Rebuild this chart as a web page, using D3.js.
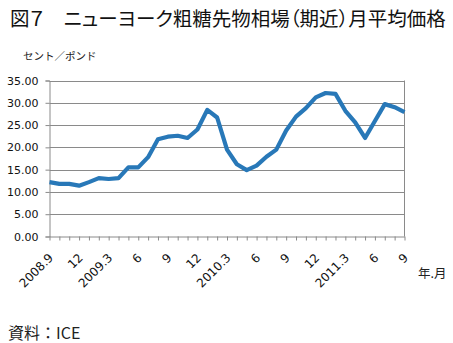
<!DOCTYPE html>
<html><head><meta charset="utf-8">
<script src="https://cdn.jsdelivr.net/npm/d3@7"></script>
<style>
body{margin:0;background:#fff;}
svg{display:block;font-family:"Noto Sans CJK JP","Noto Sans",sans-serif;}
</style></head>
<body><svg id="c" width="453" height="343"></svg>
<script>
// Monthly average, NY raw sugar futures (nearby), Sep 2008 - Sep 2011, cents/lb
const months = d3.range(37);
const prices = [12.2, 11.8, 11.8, 11.4, 12.2, 13.1, 12.9, 13.1, 15.5, 15.5, 17.8, 21.8,
  22.4, 22.6, 22.1, 24.0, 28.4, 26.7, 19.5, 16.2, 14.9, 15.9, 17.9, 19.5,
  23.8, 26.9, 28.8, 31.2, 32.2, 32.0, 28.2, 25.6, 22.1, 25.9, 29.7, 29.0, 27.9];
const monthLabels = {0:"2008.9",3:"12",6:"2009.3",9:"6",12:"9",15:"12",18:"2010.3",21:"6",24:"9",27:"12",30:"2011.3",33:"6",36:"9"};
const yTicks = [0,5,10,15,20,25,30,35];

const svg = d3.select("#c");
const L = 49.5, R = 404.5, T = 80.5, B = 236.5;
const x = d3.scaleLinear().domain([0, 36]).range([L, R]);
const y = d3.scaleLinear().domain([0, 35]).range([B, T]);
const grey = "#8a8a8a";
const numFont = "'DejaVu Sans','Verdana',sans-serif";

// title, sized to span the top line (proportional kana/punctuation)
const title = svg.append("text").attr("x", 10).attr("y", 25.5).attr("font-size", 19)
  .style("font-feature-settings", "'palt'")
  .attr("fill", "#111").text("図７　ニューヨーク粗糖先物相場（期近）月平均価格");
const tw = title.node().getComputedTextLength();
title.attr("font-size", Math.min(21, 19 * 436 / tw));

svg.append("text").attr("x", 23).attr("y", 60).attr("font-size", 10.5).attr("fill", "#222").text("セント／ポンド");
svg.append("text").attr("x", 418).attr("y", 278).attr("font-size", 12.5).attr("fill", "#222")
  .style("font-feature-settings", "'palt'").text("年.月");
svg.append("text").attr("x", 8).attr("y", 339).attr("font-size", 16).attr("fill", "#222").text("資料：ICE");

// horizontal gridlines
svg.append("g").selectAll("line").data(yTicks.filter(d => d > 0)).join("line")
  .attr("x1", L).attr("x2", R).attr("y1", d => Math.round(y(d)) + 0.5).attr("y2", d => Math.round(y(d)) + 0.5)
  .attr("stroke", grey).attr("stroke-width", 1);

// right border line
svg.append("line").attr("x1", R).attr("x2", R).attr("y1", T).attr("y2", B).attr("stroke", grey);

// y axis
const yAxis = svg.append("g").attr("transform", `translate(${L},0)`)
  .call(d3.axisLeft(y).tickValues(yTicks).tickFormat(d3.format(".2f")).tickSize(4).tickPadding(7));
yAxis.select(".domain").attr("stroke", grey);
yAxis.selectAll(".tick line").attr("stroke", grey);
yAxis.selectAll(".tick text").attr("font-size", 11).attr("fill", "#111").attr("font-family", numFont);

// x axis: a tick every month, labels every quarter
const xAxis = svg.append("g").attr("transform", `translate(0,${B})`)
  .call(d3.axisBottom(x).tickValues(months).tickFormat(d => monthLabels[d] || "").tickSize(4).tickSizeOuter(0));
xAxis.select(".domain").attr("stroke", grey);
xAxis.selectAll(".tick line").attr("stroke", grey);
xAxis.selectAll(".tick text").attr("font-size", 12).attr("fill", "#111").attr("font-family", numFont)
  .attr("text-anchor", "end").attr("dy", 0).attr("y", 0)
  .attr("transform", "translate(4,22) rotate(-45)");

// price line
svg.append("path").datum(prices)
  .attr("d", d3.line().x((d, i) => x(months[i])).y(d => y(d)))
  .attr("fill", "none").attr("stroke", "#2878b8").attr("stroke-width", 4.2)
  .attr("stroke-linejoin", "round");
</script></body></html>
